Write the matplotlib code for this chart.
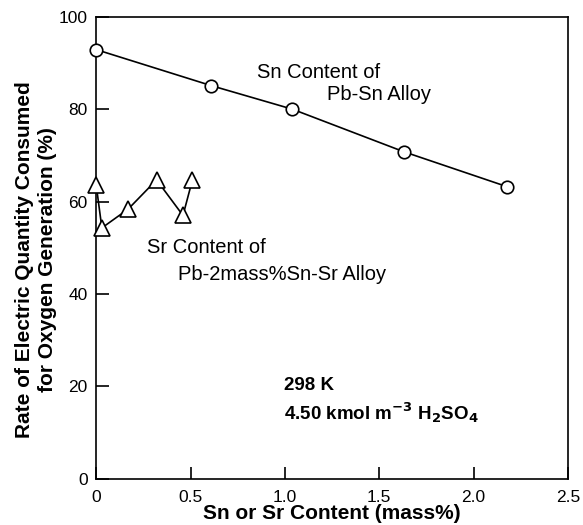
import matplotlib
matplotlib.use("Agg")
import matplotlib.pyplot as plt

plt.rcParams['font.family'] = ['Liberation Sans', 'DejaVu Sans']

# Sn content of Pb-Sn alloy
sn_content = [0.0, 0.61, 1.04, 1.63, 2.18]
sn_rate = [92.9, 85.1, 80.0, 70.8, 63.2]

# Sr content of Pb-2mass%Sn-Sr alloy
sr_content = [0.0, 0.03, 0.17, 0.32, 0.46, 0.51]
sr_rate = [63.6, 54.3, 58.4, 64.7, 57.0, 64.7]

x_ticks = [0, 0.5, 1.0, 1.5, 2.0, 2.5]
x_tick_labels = ['0', '0.5', '1.0', '1.5', '2.0', '2.5']
y_ticks = [0, 20, 40, 60, 80, 100]

fig = plt.figure(figsize=(5.83, 5.25), dpi=100)
ax = fig.add_axes([0.165, 0.088, 0.809, 0.880])

ax.plot(sn_content, sn_rate, color='black', lw=1.2, marker='o', ms=9,
        mfc='white', mec='black', mew=1.2, clip_on=False, zorder=3)
ax.plot(sr_content, sr_rate, color='black', lw=1.2, marker='^', ms=11,
        mfc='white', mec='black', mew=1.2, clip_on=False, zorder=3)

ax.set_xlim(0, 2.5)
ax.set_ylim(0, 100)
ax.set_xticks(x_ticks)
ax.set_xticklabels(x_tick_labels)
ax.set_yticks(y_ticks)
ax.tick_params(axis='both', direction='in', length=9, width=1.2, labelsize=12.5)
ax.tick_params(axis='x', pad=8)
ax.tick_params(axis='y', pad=6)
for s in ax.spines.values():
    s.set_linewidth(1.2)

# annotations
ax.text(0.853, 87.9, 'Sn Content of', fontsize=14.5, va='center')
ax.text(1.224, 83.1, 'Pb-Sn Alloy', fontsize=14.5, va='center')
ax.text(0.27, 50.0, 'Sr Content of', fontsize=14.5, va='center')
ax.text(0.434, 44.2, 'Pb-2mass%Sn-Sr Alloy', fontsize=14.5, va='center')
ax.text(0.996, 20.3, '298 K', fontsize=13.5, fontweight='bold', va='center')
ax.text(0.996, 14.3, r'4.50 kmol m$^{\mathbf{-3}}$ H$_\mathbf{2}$SO$_\mathbf{4}$',
        fontsize=13.5, fontweight='bold', va='center')

ax.set_xlabel('Sn or Sr Content (mass%)', fontsize=15, fontweight='bold', labelpad=-1)
ax.set_ylabel('Rate of Electric Quantity Consumed\nfor Oxygen Generation (%)',
              fontsize=15, fontweight='bold', linespacing=1.3)
ax.yaxis.set_label_coords(-0.083, 0.474)

fig.savefig('out.png', dpi=100)
